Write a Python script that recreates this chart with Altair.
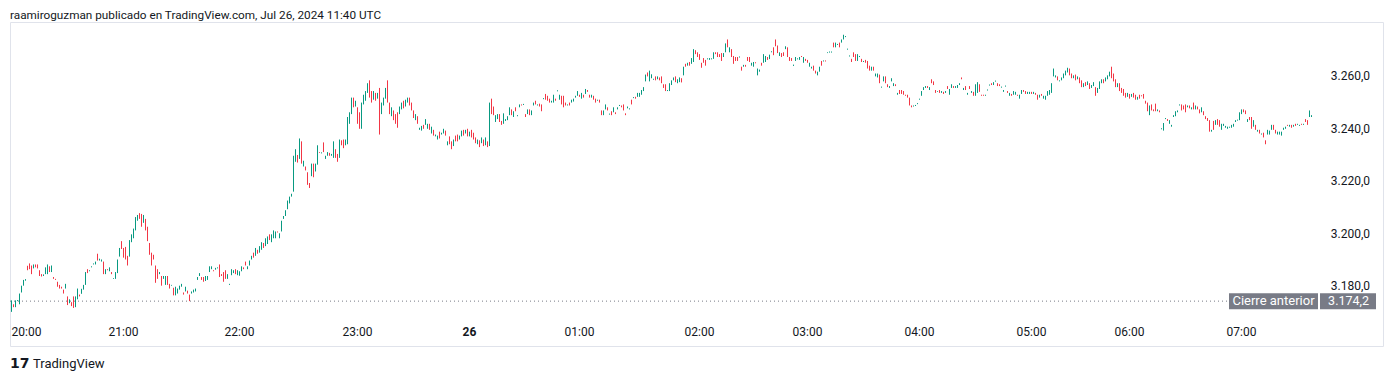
import altair as alt
import pandas as pd

# ---- candle data: (open, close) per traded 1-minute bar, one list per clock hour ----
h20 = [
(3170.1,3174.5),(3173.0,3171.9),(3171.9,3174.5),(3174.2,3174.6),(3173.0,3177.1),
(3177.5,3180.1),(3180.1,3182.3),(3182.0,3182.6),(3187.7,3186.0),(3188.6,3186.4),
(3187.8,3184.5),(3186.7,3188.2),(3188.2,3187.1),(3188.2,3186.7),(3186.0,3183.8),
(3184.5,3183.6),(3183.8,3184.4),(3184.5,3187.1),(3184.5,3188.2),(3187.5,3185.3),
(3185.3,3187.8),(3183.4,3182.7),(3182.7,3182.3),(3181.6,3179.7),(3180.4,3179.0),
(3179.7,3179.0),(3178.6,3177.1),(3179.0,3180.8),(3176.0,3172.7),(3173.4,3174.9),
(3173.8,3172.3),(3176.0,3171.6),(3171.9,3176.0),(3174.9,3179.0),(3176.7,3176.0),
(3177.0,3178.9),(3178.6,3180.4),(3180.4,3185.3),(3186.4,3184.9),(3185.6,3186.0),
(3187.1,3187.5),(3188.2,3188.6),(3188.2,3189.3),(3192.3,3189.7),(3189.7,3190.4),
(3189.3,3190.1),(3189.3,3184.5),(3184.5,3186.4),(3186.4,3186.0),(3185.6,3187.1),
(3185.3,3184.5),(3182.7,3183.0),(3182.7,3185.3),(3184.9,3190.1),(3191.2,3194.5),
(3197.1,3194.1),
]
h21 = [
(3194.5,3190.8),(3194.9,3190.1),(3191.5,3187.8),(3191.2,3197.5),(3196.7,3199.7),
(3198.2,3201.9),(3201.2,3206.3),(3204.9,3207.1),(3207.8,3205.6),(3207.5,3202.6),
(3204.1,3207.1),(3205.6,3201.2),(3202.6,3197.1),(3196.4,3191.9),(3192.7,3187.8),
(3191.9,3190.1),(3187.8,3181.2),(3186.4,3182.7),(3184.5,3185.3),(3183.8,3180.1),
(3182.7,3183.8),(3180.4,3183.8),(3183.8,3180.4),(3180.8,3179.0),(3180.1,3180.4),
(3179.3,3176.4),(3176.4,3179.7),(3177.1,3179.0),(3178.6,3180.1),(3179.7,3180.8),
(3177.5,3176.7),(3177.9,3179.7),(3178.2,3177.1),(3176.7,3174.2),(3177.1,3177.9),
(3177.5,3178.6),(3177.9,3179.0),(3182.3,3183.4),(3183.8,3184.9),(3183.4,3182.3),
(3183.4,3181.6),(3181.9,3183.8),(3182.3,3183.8),(3185.3,3187.5),(3186.4,3187.5),
(3186.0,3185.6),(3186.2,3186.9),(3186.7,3187.1),(3188.2,3183.4),(3184.5,3183.8),
(3185.3,3181.6),(3186.0,3182.7),(3182.7,3184.5),(3180.4,3180.8),(3184.1,3186.4),
(3184.9,3186.0),(3186.4,3184.5),(3184.1,3186.0),
]
h22 = [
(3183.9,3185.6),(3185.6,3187.5),(3187.1,3186.4),(3189.3,3187.8),(3186.4,3187.5),
(3187.8,3189.7),(3190.1,3191.5),(3192.7,3190.8),(3191.5,3194.5),(3193.8,3192.3),
(3192.7,3195.2),(3193.8,3196.7),(3196.4,3194.5),(3195.2,3198.2),(3196.0,3198.9),
(3199.7,3197.5),(3196.7,3199.7),(3198.2,3201.2),(3198.2,3200.8),(3200.8,3200.4),
(3198.2,3200.1),(3200.8,3204.9),(3205.6,3206.7),(3206.7,3208.9),(3209.3,3212.6),
(3211.5,3214.1),(3214.1,3215.2),(3216.0,3229.7),(3227.4,3232.2),(3230.0,3227.1),
(3228.5,3236.3),(3235.2,3226.7),(3225.6,3227.8),(3225.6,3224.1),(3223.4,3218.6),
(3219.3,3217.4),(3221.9,3226.7),(3226.7,3221.5),(3223.7,3226.7),(3226.3,3233.7),
(3231.1,3230.8),(3230.6,3231.0),(3234.8,3231.1),(3228.5,3229.7),(3229.7,3231.1),
(3230.8,3229.7),(3229.7,3230.4),(3228.9,3235.2),(3232.2,3228.9),(3230.4,3227.4),
(3228.9,3235.9),(3235.6,3233.7),(3235.9,3232.6),(3233.7,3235.9),(3234.1,3244.5),
(3241.9,3246.3),(3245.6,3251.9),(3251.9,3248.2),(3248.5,3250.7),
]
h23 = [
(3248.2,3241.9),(3246.3,3240.0),(3240.0,3250.0),(3249.3,3253.0),(3250.7,3254.4),
(3253.7,3257.4),(3258.5,3251.9),(3254.4,3250.0),(3251.1,3254.4),(3253.7,3250.7),
(3251.5,3253.7),(3255.6,3237.8),(3245.6,3250.0),(3248.9,3251.9),(3251.5,3255.6),
(3258.5,3250.0),(3250.0,3245.6),(3244.8,3248.2),(3247.0,3243.3),(3245.6,3241.9),
(3246.3,3240.4),(3245.6,3248.5),(3247.4,3250.0),(3250.7,3247.8),(3248.5,3251.1),
(3250.0,3251.9),(3251.9,3248.9),(3250.0,3247.0),(3247.0,3244.1),(3243.3,3245.6),
(3244.8,3241.9),(3239.6,3240.4),(3239.3,3241.1),(3241.5,3240.0),(3241.5,3243.7),
(3240.0,3241.9),(3241.9,3239.6),(3238.2,3240.8),(3239.6,3237.4),(3237.1,3237.8),
(3235.9,3237.4),(3238.9,3236.3),(3237.8,3238.5),(3238.2,3240.0),(3239.3,3237.4),
(3233.7,3235.2),(3237.1,3234.1),(3235.2,3232.2),(3233.4,3235.9),(3237.4,3235.2),
(3237.8,3235.2),(3235.9,3237.4),(3237.1,3239.3),(3239.6,3237.4),(3238.2,3239.6),
(3240.0,3237.1),
]
h00 = [
(3237.1,3238.9),(3239.6,3236.7),(3238.5,3235.9),(3236.7,3234.5),(3234.1,3235.9),
(3235.6,3233.0),(3234.5,3236.7),(3235.9,3233.4),(3233.7,3236.7),(3235.2,3233.0),
(3233.4,3250.0),(3251.5,3245.6),(3248.5,3245.2),(3242.6,3245.2),(3243.7,3245.6),
(3245.6,3242.6),(3243.0,3241.5),(3241.9,3245.9),(3243.0,3243.7),(3243.3,3244.8),
(3245.2,3248.2),(3247.4,3245.2),(3244.5,3246.7),(3248.2,3246.7),(3244.8,3245.2),
(3248.2,3249.3),(3249.3,3248.9),(3249.1,3249.5),(3245.6,3244.5),(3245.6,3247.4),
(3247.4,3245.2),(3245.2,3247.0),(3248.9,3250.0),(3250.7,3249.3),(3248.9,3249.3),
(3249.6,3248.5),(3249.3,3246.7),(3251.3,3251.7),(3253.3,3251.1),(3252.6,3250.7),
(3251.5,3250.0),(3250.0,3250.7),(3250.0,3253.0),(3251.5,3250.7),(3254.3,3254.7),
(3251.1,3253.0),(3252.6,3249.3),(3252.6,3248.2),(3250.0,3248.9),(3248.9,3249.3),
(3250.0,3248.9),(3250.0,3251.1),(3250.4,3251.5),(3251.9,3252.6),(3252.6,3254.4),
]
h01 = [
(3253.0,3252.2),(3251.5,3253.7),(3253.0,3251.9),(3253.3,3255.2),(3254.8,3254.1),
(3253.0,3251.9),(3251.9,3253.0),(3252.6,3251.1),(3251.5,3250.0),(3250.7,3251.1),
(3251.1,3250.0),(3247.0,3245.2),(3245.2,3247.0),(3247.4,3249.3),(3248.2,3247.0),
(3245.4,3245.8),(3246.7,3245.2),(3246.3,3248.2),(3246.3,3245.6),(3247.4,3248.2),
(3248.7,3249.1),(3248.9,3248.2),(3249.3,3247.0),(3245.9,3245.2),(3247.8,3248.5),
(3247.4,3247.8),(3251.1,3249.3),(3251.7,3252.1),(3252.2,3251.5),(3252.2,3253.7),
(3252.2,3253.7),(3253.0,3254.8),(3254.4,3255.9),(3258.1,3260.7),(3261.5,3260.0),
(3258.1,3262.2),(3259.3,3260.8),(3258.7,3259.1),(3260.0,3258.5),(3258.9,3260.0),
(3259.6,3258.5),(3260.0,3257.4),(3257.0,3255.6),(3257.0,3254.4),(3254.4,3254.8),
(3254.4,3257.4),(3256.7,3258.5),(3258.5,3259.6),(3260.0,3257.8),(3257.4,3258.9),
(3257.8,3259.6),(3259.3,3257.7),(3260.4,3263.7),(3264.8,3263.7),(3264.1,3265.2),
(3265.5,3264.1),(3264.8,3267.0),(3265.5,3270.4),(3270.0,3268.5),(3269.2,3267.4),
]
h02 = [
(3268.5,3266.3),(3265.2,3263.3),(3267.0,3265.2),(3266.3,3264.1),(3266.5,3266.9),
(3266.3,3267.0),(3266.5,3266.9),(3266.7,3269.2),(3269.2,3268.5),(3269.2,3267.4),
(3268.5,3267.4),(3268.9,3265.9),(3267.4,3268.9),(3269.2,3272.6),(3274.1,3271.1),
(3269.2,3271.1),(3270.4,3267.4),(3267.8,3264.8),(3267.4,3265.9),(3267.4,3265.9),
(3267.2,3267.6),(3263.7,3262.2),(3263.7,3264.4),(3264.4,3263.7),(3267.4,3265.9),
(3267.4,3265.5),(3264.1,3265.2),(3263.7,3265.5),(3265.4,3265.0),(3260.4,3263.0),
(3261.8,3262.6),(3265.2,3264.1),(3265.2,3268.5),(3265.5,3267.8),(3267.4,3266.3),
(3266.6,3268.3),(3269.2,3269.6),(3271.1,3268.1),(3274.1,3271.5),(3271.8,3268.9),
(3267.8,3269.2),(3268.9,3267.4),(3269.2,3267.8),(3270.4,3271.5),(3271.1,3267.4),
(3267.4,3265.9),(3267.0,3265.9),(3264.0,3264.5),(3265.9,3267.4),(3266.5,3266.9),
(3266.3,3267.4),(3267.8,3267.4),(3265.2,3267.4),(3266.7,3265.9),
]
h03 = [
(3266.3,3265.2),(3263.7,3265.2),(3263.0,3263.7),(3264.1,3262.2),(3262.2,3261.1),
(3260.4,3261.8),(3261.8,3263.7),(3265.9,3264.1),(3265.7,3266.1),(3266.1,3265.7),
(3268.9,3269.2),(3269.1,3269.5),(3269.1,3269.5),(3272.9,3271.1),(3271.1,3272.9),
(3272.0,3272.4),(3272.9,3271.1),(3272.9,3274.1),(3274.1,3275.9),(3275.0,3275.4),
(3270.2,3270.6),(3267.6,3268.0),(3266.7,3265.5),(3269.2,3267.4),(3268.5,3265.9),
(3265.9,3268.5),(3267.4,3267.8),(3266.7,3265.5),(3265.5,3265.9),(3266.3,3265.2),
(3265.9,3263.0),(3264.1,3262.2),(3262.2,3263.7),(3263.7,3262.2),(3260.0,3261.1),
(3259.6,3261.1),(3260.7,3257.4),(3255.7,3256.1),(3258.1,3260.0),(3260.0,3257.4),
(3257.0,3255.9),(3255.6,3256.3),(3258.1,3259.3),(3256.3,3257.4),(3257.0,3256.3),
(3253.0,3253.7),(3254.8,3253.3),(3254.8,3253.3),(3254.4,3253.0),(3253.0,3252.6),
(3253.0,3251.9),(3251.9,3248.9),(3248.9,3248.2),(3248.5,3248.9),(3248.7,3249.1),
(3249.4,3249.8),
]
h04 = [
(3251.1,3251.5),(3252.6,3254.4),(3254.8,3255.9),(3255.6,3256.3),(3256.3,3255.6),
(3254.8,3255.9),(3258.9,3257.4),(3258.1,3256.7),(3254.8,3253.7),(3254.1,3254.4),
(3254.8,3253.7),(3253.7,3254.4),(3254.1,3253.3),(3253.7,3254.4),(3256.3,3255.2),
(3253.0,3255.2),(3255.6,3257.0),(3256.3,3255.6),(3255.6,3256.3),(3255.6,3256.7),
(3256.7,3257.4),(3259.6,3258.9),(3254.8,3255.6),(3256.3,3254.8),(3253.0,3253.7),
(3256.3,3255.2),(3253.7,3254.4),(3254.1,3252.6),(3252.6,3257.0),(3253.7,3257.8),
(3257.0,3254.1),(3253.0,3252.6),(3253.0,3252.6),(3252.6,3253.0),(3254.6,3255.0),
(3256.5,3256.9),(3257.4,3256.7),(3256.7,3257.8),(3258.0,3258.4),(3257.4,3256.3),
(3257.0,3256.3),(3255.7,3256.1),(3254.1,3254.8),(3256.1,3256.5),(3254.4,3253.7),
(3252.6,3253.7),(3253.3,3252.6),(3253.0,3254.4),(3253.0,3254.1),(3253.0,3252.6),
(3251.5,3253.0),(3253.3,3254.8),(3254.8,3254.1),(3254.4,3253.3),(3253.3,3254.1),
(3253.3,3254.1),
]
h05 = [
(3254.1,3253.3),(3253.3,3254.1),(3253.7,3253.0),(3253.0,3251.1),(3251.9,3253.0),
(3253.3,3252.6),(3251.5,3252.6),(3251.1,3252.6),(3252.6,3254.4),(3253.0,3254.8),
(3253.7,3257.4),(3260.0,3263.0),(3259.6,3260.4),(3260.0,3258.5),(3258.1,3258.5),
(3258.5,3259.6),(3259.3,3261.1),(3260.4,3262.2),(3261.5,3263.3),(3263.0,3260.4),
(3261.1,3259.3),(3259.3,3260.4),(3260.7,3258.5),(3258.9,3260.0),(3259.6,3257.4),
(3258.5,3255.9),(3255.9,3257.4),(3257.8,3256.3),(3256.7,3258.1),(3257.4,3255.2),
(3255.6,3256.7),(3256.3,3257.8),(3255.9,3252.6),(3253.7,3255.6),(3255.2,3258.1),
(3257.4,3258.9),(3258.9,3257.4),(3258.1,3259.6),(3258.9,3260.4),(3260.0,3261.8),
(3263.7,3259.3),(3261.1,3258.1),(3258.9,3255.9),(3255.9,3257.4),(3257.4,3254.4),
(3255.6,3253.7),(3255.2,3252.6),(3253.7,3251.9),(3252.2,3253.7),
]
h06 = [
(3253.3,3251.5),(3252.2,3253.3),(3253.7,3251.9),(3253.0,3251.1),(3251.1,3252.2),
(3253.0,3251.5),(3252.8,3252.4),(3253.3,3251.5),(3250.7,3249.6),(3250.0,3246.7),
(3245.2,3248.9),(3249.3,3247.0),(3247.4,3246.7),(3249.6,3246.7),(3246.7,3247.4),
(3247.0,3246.3),(3239.8,3240.2),(3239.3,3242.2),(3243.7,3244.1),(3243.7,3243.0),
(3241.9,3243.3),(3240.8,3241.5),(3244.5,3245.2),(3244.8,3246.7),(3246.3,3247.0),
(3248.9,3249.3),(3249.3,3247.0),(3248.9,3247.4),(3249.3,3246.3),(3248.2,3248.9),
(3248.9,3247.8),(3247.4,3248.2),(3250.0,3247.4),(3247.4,3248.9),(3248.5,3247.4),
(3247.4,3245.9),(3246.3,3248.2),(3246.7,3245.2),(3244.8,3243.7),(3244.1,3243.0),
(3243.3,3238.9),(3238.9,3239.6),(3243.0,3239.6),(3241.5,3243.3),(3243.7,3241.5),
(3243.3,3240.8),(3239.6,3241.9),(3241.1,3241.9),(3240.4,3241.1),(3240.0,3240.8),
(3240.4,3240.8),(3240.4,3241.5),(3240.8,3241.9),(3242.6,3243.3),(3243.1,3243.5),
(3243.3,3246.3),
]
h07 = [
(3245.6,3247.4),(3247.4,3246.3),(3247.0,3245.6),(3242.6,3243.7),(3244.5,3243.3),
(3244.5,3240.0),(3240.8,3243.3),(3241.5,3239.6),(3238.9,3239.6),(3239.6,3238.2),
(3237.8,3238.2),(3238.5,3236.7),(3235.6,3234.1),(3237.8,3239.6),(3237.8,3239.3),
(3239.6,3241.5),(3241.5,3239.6),(3239.6,3238.2),(3237.8,3238.9),(3237.8,3238.9),
(3237.4,3238.9),(3239.6,3240.4),(3240.0,3240.8),(3241.5,3241.1),(3240.8,3241.5),
(3241.5,3240.4),(3240.8,3241.5),(3241.9,3241.1),(3241.5,3241.9),(3241.1,3241.5),
(3241.9,3241.5),(3241.5,3241.9),(3243.7,3242.6),(3243.3,3241.5),(3244.5,3247.0),
(3244.5,3245.2),
]

# axis texts
hour_labels = ["20:00", "21:00", "22:00", "23:00", "26", "01:00", "02:00",
               "03:00", "04:00", "05:00", "06:00", "07:00"]
price_ticks = [3180, 3200, 3220, 3240, 3260]
price_labels = ["3.180,0", "3.200,0", "3.220,0", "3.240,0", "3.260,0"]
prev_close = 3174.2
prev_close_label = "3.174,2"
title_text = "raamiroguzman publicado en TradingView.com, Jul 26, 2024 11:40 UTC"

# TradingView spaces bars evenly by bar number (minutes without trades are skipped)
hours = [h20, h21, h22, h23, h00, h01, h02, h03, h04, h05, h06, h07]
rows, hour_start = [], []
i = 0
for hour in hours:
    hour_start.append(i)
    for (o, c) in hour:
        rows.append({"i": i, "o": o, "c": c, "dir": "up" if c >= o else "down"})
        i += 1
candles = pd.DataFrame(rows)

W, H = 1373, 324
FONT = "Roboto"
TXT = "#131722"
GRAY = "#787b86"

xs = alt.Scale(domain=[-0.75, 685.75], nice=False, zero=False)
ys = alt.Scale(domain=[3158.98, 3278.86], nice=False, zero=False)

candle_layer = alt.Chart(candles).mark_rule(strokeWidth=1).encode(
    x=alt.X("i:Q", scale=xs, axis=None),
    y=alt.Y("o:Q", scale=ys, axis=None),
    y2="c:Q",
    color=alt.Color("dir:N", scale=alt.Scale(domain=["up", "down"], range=["#089981", "#F23645"]), legend=None),
)

pc = pd.DataFrame({"p": [prev_close], "lab": ["Cierre anterior"], "val": [prev_close_label]})
pc_line = alt.Chart(pc).mark_rule(strokeDash=[1, 3], color=GRAY, strokeWidth=1).encode(
    y=alt.Y("p:Q", scale=ys, axis=None), x=alt.value(0), x2=alt.value(1219)
)
pc_box1 = alt.Chart(pc).mark_bar(size=16, color=GRAY, orient="horizontal").encode(
    y=alt.Y("p:Q", scale=ys, axis=None), x=alt.value(1219), x2=alt.value(1308)
)
pc_box2 = alt.Chart(pc).mark_bar(size=16, color=GRAY, orient="horizontal").encode(
    y=alt.Y("p:Q", scale=ys, axis=None), x=alt.value(1310), x2=alt.value(1366)
)
pc_txt1 = alt.Chart(pc).mark_text(font=FONT, fontSize=13, color="white", align="center", baseline="middle").encode(
    y=alt.Y("p:Q", scale=ys, axis=None), x=alt.value(1263.5), text="lab:N"
)
pc_txt2 = alt.Chart(pc).mark_text(font=FONT, fontSize=12.5, color="white", align="right", baseline="middle").encode(
    y=alt.Y("p:Q", scale=ys, axis=None), x=alt.value(1359), text="val:N"
)

pt = pd.DataFrame({"p": price_ticks, "lab": price_labels})
price_axis = alt.Chart(pt).mark_text(font=FONT, fontSize=12, color=TXT, align="right", baseline="middle").encode(
    y=alt.Y("p:Q", scale=ys, axis=None), x=alt.value(1360), text="lab:N"
)

tt = pd.DataFrame({"i": hour_start, "lab": hour_labels})
time_axis = alt.Chart(tt).transform_filter(
    "datum.lab != '20:00' && datum.lab != '26'"
).mark_text(font=FONT, fontSize=12, color=TXT, align="center", baseline="middle").encode(
    x=alt.X("i:Q", scale=xs, axis=None), y=alt.value(310), text="lab:N"
)
time_first = alt.Chart(tt).transform_filter("datum.lab == '20:00'").mark_text(
    font=FONT, fontSize=12, color=TXT, align="left", baseline="middle"
).encode(x=alt.X("i:Q", scale=xs, axis=None), y=alt.value(310), text="lab:N")
time_day = alt.Chart(tt).transform_filter("datum.lab == '26'").mark_text(
    font=FONT, fontSize=12, fontWeight="bold", color=TXT, align="center", baseline="middle"
).encode(x=alt.X("i:Q", scale=xs, axis=None), y=alt.value(310), text="lab:N")

title = alt.Chart(pd.DataFrame({"t": [title_text]})).mark_text(
    font=FONT, fontSize=11.75, color=TXT, align="left", baseline="middle"
).encode(x=alt.value(0), y=alt.value(-7.5), text="t:N")

logo_icon = alt.Chart(pd.DataFrame({"t": ["17"]})).mark_text(
    font="DejaVu Sans", fontSize=14, fontWeight=900, color=TXT, align="left", baseline="middle"
).encode(x=alt.value(0), y=alt.value(342), text="t:N")
logo_txt = alt.Chart(pd.DataFrame({"t": ["TradingView"]})).mark_text(
    font=FONT, fontSize=13, color=TXT, align="left", baseline="middle"
).encode(x=alt.value(23), y=alt.value(342), text="t:N")

chart = alt.layer(
    pc_line, candle_layer, pc_box1, pc_box2, pc_txt1, pc_txt2,
    price_axis, time_axis, time_first, time_day, title, logo_icon, logo_txt,
).properties(
    width=W, height=H,
    autosize=alt.AutoSizeParams(type="none"),
    padding={"left": 2, "top": 14, "right": 1, "bottom": 28},
    background="white",
).configure_view(stroke="#e0e3eb", strokeWidth=1)

chart.save("out.html", embed_options={"renderer": "svg", "actions": False})
